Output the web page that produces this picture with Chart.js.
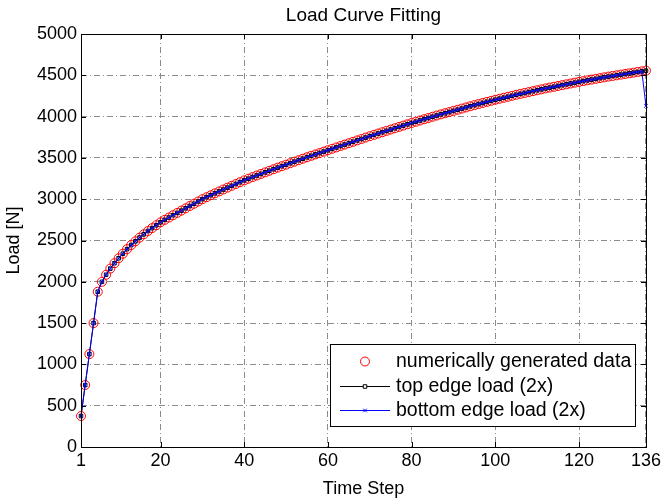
<!DOCTYPE html>
<html>
<head>
<meta charset="utf-8">
<script src="https://cdn.jsdelivr.net/npm/chart.js@4.4.1/dist/chart.umd.min.js"></script>
<style>
  html, body { margin: 0; padding: 0; background: #fff; }
  canvas { display: block; }
</style>
</head>
<body>
<canvas id="myChart" width="664" height="500"></canvas>
<script>
// values, one per time step (1..136)
const numericLoad = [
  375, 750, 1125, 1500, 1880, 2000, 2085, 2160, 2225, 2285,
  2340, 2395, 2445, 2490, 2535, 2575, 2615, 2650, 2685, 2720,
  2750, 2778, 2806, 2834, 2862, 2890, 2918, 2945, 2972, 3000,
  3024, 3048, 3071, 3094, 3117, 3140, 3162, 3184, 3206, 3228,
  3248, 3268, 3287, 3306, 3325, 3344, 3363, 3382, 3400, 3418,
  3436, 3454, 3472, 3490, 3508, 3525, 3542, 3559, 3576, 3593,
  3610, 3627, 3644, 3661, 3678, 3695, 3712, 3729, 3746, 3763,
  3779, 3795, 3811, 3827, 3843, 3859, 3875, 3891, 3907, 3923,
  3938, 3953, 3968, 3983, 3998, 4013, 4027, 4041, 4055, 4069,
  4083, 4097, 4111, 4125, 4139, 4152, 4165, 4178, 4191, 4204,
  4216, 4228, 4240, 4252, 4264, 4275, 4286, 4297, 4308, 4319,
  4330, 4341, 4351, 4361, 4371, 4381, 4391, 4401, 4411, 4421,
  4430, 4439, 4448, 4457, 4466, 4475, 4484, 4492, 4500, 4508,
  4516, 4524, 4532, 4540, 4548, 4556
];
// top edge follows the data; bottom edge drops on the last step
const topEdgeLoad = numericLoad.slice();
const bottomEdgeLoad = numericLoad.slice(0, -1).concat([4130]);

const xTicks = [1, 20, 40, 60, 80, 100, 120, 136];
const yTicks = [0, 500, 1000, 1500, 2000, 2500, 3000, 3500, 4000, 4500, 5000];

const FONT = "'Liberation Sans', Arial, sans-serif";

const toPoints = arr => arr.map((v, i) => ({ x: i + 1, y: v }));

// frame, inward ticks, title and legend, MATLAB style
const matlabFrame = {
  id: 'matlabFrame',
  afterDraw(chart) {
    const { ctx, chartArea: a, scales } = chart;
    ctx.save();
    ctx.strokeStyle = '#000';
    ctx.lineWidth = 1;
    ctx.strokeRect(Math.round(a.left) + 0.5, Math.round(a.top) + 0.5,
      Math.round(a.right - a.left), Math.round(a.bottom - a.top));
    const tl = 5;
    ctx.beginPath();
    xTicks.forEach(v => {
      const px = Math.round(scales.x.getPixelForValue(v)) + 0.5;
      ctx.moveTo(px, a.bottom); ctx.lineTo(px, a.bottom - tl);
      ctx.moveTo(px, a.top); ctx.lineTo(px, a.top + tl);
    });
    yTicks.forEach(v => {
      const py = Math.round(scales.y.getPixelForValue(v)) + 0.5;
      ctx.moveTo(a.left, py); ctx.lineTo(a.left + tl, py);
      ctx.moveTo(a.right, py); ctx.lineTo(a.right - tl, py);
    });
    ctx.stroke();

    // title
    ctx.fillStyle = '#000';
    ctx.font = '19px ' + FONT;
    ctx.textAlign = 'center';
    ctx.textBaseline = 'alphabetic';
    ctx.fillText('Load Curve Fitting', (a.left + a.right) / 2, 21);

    // legend
    const bx = 330, by = 344, bw = 305, bh = 82;
    ctx.fillStyle = '#fff';
    ctx.fillRect(bx, by, bw, bh);
    ctx.strokeStyle = '#000';
    ctx.strokeRect(bx + 0.5, by + 0.5, bw, bh);
    const rows = [361, 386, 410];
    chart.data.datasets.forEach((ds, i) => {
      const y = rows[i];
      ctx.strokeStyle = ds.borderColor;
      ctx.lineWidth = 1;
      if (ds.showLine !== false) {
        ctx.beginPath();
        ctx.moveTo(340, y + 0.5); ctx.lineTo(390, y + 0.5);
        ctx.stroke();
      }
      ctx.fillStyle = 'rgba(255,255,255,1)';
      Chart.helpers.drawPoint(ctx, {
        pointStyle: ds.pointStyle, radius: ds.pointRadius,
        borderWidth: ds.pointBorderWidth || 1, rotation: 0
      }, 365, y + 0.5);
      ctx.fillStyle = '#000';
      ctx.font = '19.5px ' + FONT;
      ctx.textAlign = 'left';
      ctx.textBaseline = 'middle';
      ctx.fillText(ds.label, 396, y + 1);
    });
    ctx.restore();
  }
};

const ctx = document.getElementById('myChart').getContext('2d');
const myChart = new Chart(ctx, {
  type: 'line',
  data: {
    datasets: [
      {
        label: 'numerically generated data',
        data: toPoints(numericLoad),
        showLine: false,
        pointStyle: 'circle',
        pointRadius: 4.5,
        pointBorderWidth: 1,
        borderColor: '#ff0000',
        backgroundColor: 'rgba(0,0,0,0)',
        pointBackgroundColor: 'rgba(0,0,0,0)',
        clip: false,
        order: 3
      },
      {
        label: 'top edge load (2x)',
        data: toPoints(topEdgeLoad),
        borderColor: '#000000',
        borderWidth: 1,
        pointStyle: 'rect',
        pointRadius: 2.5,
        pointBorderWidth: 1,
        pointBackgroundColor: 'rgba(0,0,0,0)',
        tension: 0,
        clip: false,
        order: 2
      },
      {
        label: 'bottom edge load (2x)',
        data: toPoints(bottomEdgeLoad),
        borderColor: '#0000ff',
        borderWidth: 1,
        pointStyle: 'crossRot',
        pointRadius: 2.5,
        pointBorderWidth: 1,
        tension: 0,
        clip: false,
        order: 1
      }
    ]
  },
  options: {
    responsive: false,
    devicePixelRatio: 1,
    animation: false,
    layout: { padding: { top: 34, right: 16, left: 0, bottom: 0 } },
    plugins: {
      legend: { display: false },
      tooltip: { enabled: false },
      title: { display: false }
    },
    scales: {
      x: {
        type: 'linear',
        min: 1,
        max: 136,
        afterBuildTicks: scale => { scale.ticks = xTicks.map(v => ({ value: v })); },
        afterFit: scale => { scale.height = 53; },
        ticks: {
          autoSkip: false,
          maxRotation: 0,
          padding: 3,
          color: '#000',
          font: { family: FONT, size: 18 },
          callback: v => String(v)
        },
        grid: { color: '#8c8c8c', lineWidth: 1, drawTicks: false },
        border: { display: false, dash: [6, 3, 1, 3] },
        title: {
          display: true,
          text: 'Time Step',
          color: '#000',
          font: { family: FONT, size: 18 },
          padding: { top: 3, bottom: 0 }
        }
      },
      y: {
        min: 0,
        max: 5000,
        afterBuildTicks: scale => { scale.ticks = yTicks.map(v => ({ value: v })); },
        afterFit: scale => { scale.width = 81; },
        ticks: {
          padding: 4,
          color: '#000',
          font: { family: FONT, size: 18 },
          callback: v => String(v)
        },
        grid: { color: '#8c8c8c', lineWidth: 1, drawTicks: false },
        border: { display: false, dash: [6, 3, 1, 3] },
        title: {
          display: true,
          text: 'Load [N]',
          color: '#000',
          font: { family: FONT, size: 18 },
          padding: { top: 3, bottom: 0 }
        }
      }
    }
  },
  plugins: [matlabFrame]
});
</script>
</body>
</html>
